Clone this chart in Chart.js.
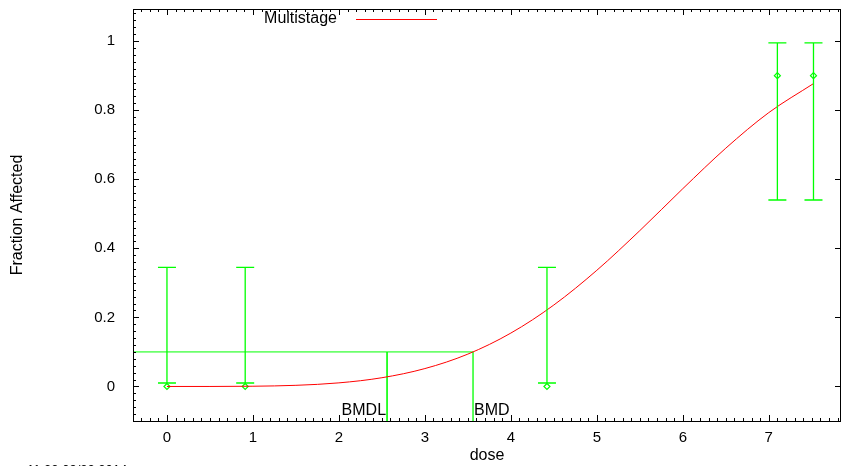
<!DOCTYPE html>
<html>
<head>
<meta charset="utf-8">
<script src="https://cdn.jsdelivr.net/npm/chart.js@4/dist/chart.umd.min.js"></script>
<style>
    body { margin: 0; background: #fff; }
    canvas { display: block; }
</style>
</head>
<body>
<canvas id="dose-chart" width="842" height="466"></canvas>
<script>
// observed data with confidence limits
const doses = [0, 0.91, 4.42, 7.1, 7.52];
const observed = [0, 0, 0, 0.9, 0.9];
const lowerLimit = [0.01, 0.01, 0.01, 0.54, 0.54];
const upperLimit = [0.345, 0.345, 0.345, 0.995, 0.995];

// fitted multistage curve
const curveDoses = [0, 0.5, 1, 1.5, 2, 2.5, 3, 3.5, 4, 4.5, 5, 5.5, 6, 6.5, 7, 7.52];
const curveFraction = [0, 0, 0.0007, 0.0033, 0.0104, 0.0253, 0.0518, 0.0937, 0.1546, 0.2359, 0.3364, 0.4513, 0.5727, 0.690, 0.793, 0.877];

const bmr = 0.1;
const bmdl = 2.56;
const bmd = 3.56;

const xTicks = [0, 1, 2, 3, 4, 5, 6, 7];
const yTicks = [0, 0.2, 0.4, 0.6, 0.8, 1];

const xMin = -0.395, xMax = 7.84;
const yMin = -0.1, yMax = 1.093;

const green = '#00ff00';
const font = {family: '"Liberation Sans", Arial, sans-serif', size: 15};
const labelFont = {family: font.family, size: 16};

// error bars with caps
const errorBars = {
    id: 'errorBars',
    afterDatasetsDraw(chart) {
        const ctx = chart.ctx;
        const x = chart.scales.x, y = chart.scales.y;
        ctx.save();
        ctx.strokeStyle = green;
        ctx.lineWidth = 1.3;
        for (let i = 0; i < doses.length; i++) {
            const px = x.getPixelForValue(doses[i]);
            const lo = y.getPixelForValue(lowerLimit[i]);
            const hi = y.getPixelForValue(upperLimit[i]);
            ctx.beginPath();
            ctx.moveTo(px, lo); ctx.lineTo(px, hi);
            ctx.moveTo(px - 9, lo); ctx.lineTo(px + 9, lo);
            ctx.moveTo(px - 9, hi); ctx.lineTo(px + 9, hi);
            ctx.stroke();
        }
        ctx.restore();
    }
};

// frame, inward ticks, legend, bmd labels
const decorations = {
    id: 'decorations',
    afterDraw(chart) {
        const ctx = chart.ctx;
        const a = chart.chartArea;
        const x = chart.scales.x, y = chart.scales.y;
        ctx.save();
        ctx.strokeStyle = '#000';
        ctx.lineWidth = 1;
        ctx.strokeRect(a.left + 0.5, a.top + 0.5, a.right - a.left - 1, a.bottom - a.top);

        ctx.beginPath();
        // x ticks (bottom + top)
        for (let k = Math.ceil(xMin * 10); k <= Math.floor(xMax * 10); k++) {
            const px = Math.round(x.getPixelForValue(k / 10)) + 0.5;
            const len = k % 10 === 0 ? 6 : 3;
            ctx.moveTo(px, a.bottom); ctx.lineTo(px, a.bottom - len);
            ctx.moveTo(px, a.top); ctx.lineTo(px, a.top + len);
        }
        // y ticks (left minor+major, right major)
        for (let k = Math.ceil(yMin * 50); k <= Math.floor(yMax * 50); k++) {
            const py = Math.round(y.getPixelForValue(k / 50)) + 0.5;
            const major = k % 10 === 0;
            ctx.moveTo(a.left, py); ctx.lineTo(a.left + (major ? 6 : 3), py);
            if (major) {
                ctx.moveTo(a.right, py); ctx.lineTo(a.right - 6, py);
            }
        }
        ctx.stroke();

        // legend
        ctx.font = labelFont.size + 'px ' + font.family;
        ctx.fillStyle = '#000';
        ctx.textBaseline = 'middle';
        ctx.textAlign = 'right';
        ctx.fillText('Multistage', 337, 19);
        ctx.strokeStyle = '#ff0000';
        ctx.beginPath();
        ctx.moveTo(356, 19.5); ctx.lineTo(437, 19.5);
        ctx.stroke();

        // bmd labels
        ctx.textBaseline = 'alphabetic';
        ctx.fillStyle = '#000';
        ctx.textAlign = 'right';
        ctx.fillText('BMDL', x.getPixelForValue(bmdl) - 1, 415);
        ctx.textAlign = 'left';
        ctx.fillText('BMD', x.getPixelForValue(bmd) + 1, 415);

        // time stamp, mostly cut off at the bottom
        ctx.font = '13px ' + font.family;
        ctx.textBaseline = 'top';
        ctx.fillText('11:22 09/22 2014', 27, 464);
        ctx.restore();
    }
};

const noPadding = (scale) => {
    scale.paddingTop = 0;
    scale.paddingBottom = 0;
    scale.paddingLeft = 0;
    scale.paddingRight = 0;
};

const lineStyle = {showLine: true, pointRadius: 0, fill: false, borderColor: green, borderWidth: 1};

new Chart(document.getElementById('dose-chart'), {
    type: 'scatter',
    data: {
        datasets: [
            {
                label: 'Multistage',
                data: curveDoses.map((d, i) => ({x: d, y: curveFraction[i]})),
                showLine: true,
                pointRadius: 0,
                borderColor: '#ff0000',
                borderWidth: 1,
                cubicInterpolationMode: 'monotone'
            },
            {
                ...lineStyle,
                data: [{x: xMin, y: bmr}, {x: bmd, y: bmr}]
            },
            {
                ...lineStyle,
                borderWidth: 1.6,
                data: [{x: bmdl, y: bmr}, {x: bmdl, y: yMin}]
            },
            {
                ...lineStyle,
                borderWidth: 1.3,
                data: [{x: bmd, y: bmr}, {x: bmd, y: yMin}]
            },
            {
                label: 'Observed',
                data: doses.map((d, i) => ({x: d, y: observed[i]})),
                pointStyle: 'rectRot',
                pointRadius: 3,
                borderColor: green,
                backgroundColor: '#ffffff',
                borderWidth: 1.2
            }
        ]
    },
    options: {
        responsive: false,
        animation: false,
        layout: {autoPadding: false, padding: {top: 9, right: 1, left: 0, bottom: 0}},
        plugins: {
            legend: {display: false},
            tooltip: {enabled: false}
        },
        scales: {
            x: {
                type: 'linear',
                min: xMin,
                max: xMax,
                afterBuildTicks(scale) {
                    scale.ticks = xTicks.map(v => ({value: v}));
                },
                afterFit(scale) {
                    scale.height = 45;
                    noPadding(scale);
                },
                grid: {display: false, drawTicks: false},
                border: {display: false},
                ticks: {font: font, color: '#000', padding: 8, maxRotation: 0, callback: v => String(v)},
                title: {display: true, text: 'dose', font: labelFont, color: '#000', padding: {top: 4, bottom: 1}}
            },
            y: {
                type: 'linear',
                min: yMin,
                max: yMax,
                afterBuildTicks(scale) {
                    scale.ticks = yTicks.map(v => ({value: v}));
                },
                afterFit(scale) {
                    scale.width = 133;
                    noPadding(scale);
                },
                grid: {display: false, drawTicks: false},
                border: {display: false},
                ticks: {font: font, color: '#000', padding: 18, callback: v => String(Math.round(v * 10) / 10)},
                title: {display: true, text: 'Fraction Affected', font: labelFont, color: '#000', padding: {top: 8, bottom: 4}}
            }
        }
    },
    plugins: [errorBars, decorations]
});
</script>
</body>
</html>
